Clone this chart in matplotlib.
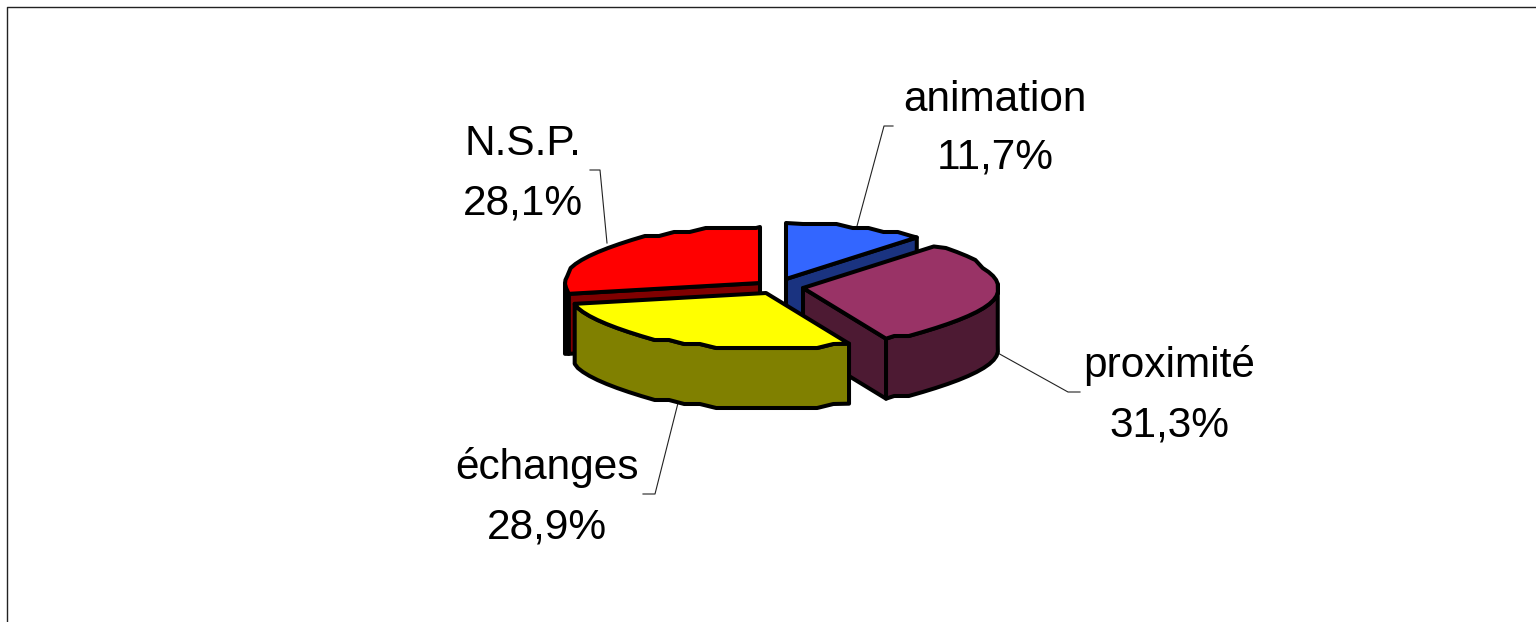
import numpy as np
import matplotlib
matplotlib.use('Agg')
import matplotlib.pyplot as plt
from matplotlib.patches import Polygon

plt.rcParams['font.family'] = ['Liberation Sans', 'DejaVu Sans']

# slices, clockwise from 12 o'clock
labels = ['animation', 'proximité', 'échanges', 'N.S.P.']
values = [11.7, 31.3, 28.9, 28.1]
value_labels = ['11,7%', '31,3%', '28,9%', '28,1%']
top_colors = ['#3366FF', '#993366', '#FFFF00', '#FF0000']
side_colors = ['#1A3380', '#4D1A33', '#808000', '#800000']

# pie geometry in pixels
apex = [(786, 279), (803, 288), (766, 293), (760, 283)]
rx = 195
ry = 56
depth = 60
lw = 2.9

label_pos = [(995, 100, 158), (1169, 366, 425), (547, 468, 528), (523, 144, 204)]
leaders = [
    [(857, 226), (884, 126), (893, 126)],
    [(996, 352), (1068, 392), (1080, 392)],
    [(678, 403), (655, 494), (643, 494)],
    [(607, 243), (600, 170), (590, 170)],
]


def arc(cx, cy, a0, a1):
    # coarse steps in y give the rough outline of the original
    t = np.radians(np.arange(a0, a1, 5.0))
    t = np.append(t, np.radians(a1))
    x = cx + rx * np.sin(t)
    y = cy - ry * np.cos(t)
    y[1:-1] = np.round(y[1:-1] / 4) * 4
    return np.column_stack([x, y])


def point(cx, cy, a):
    a = np.radians(a)
    return np.array([cx + rx * np.sin(a), cy - ry * np.cos(a)])


def extrude(pts):
    low = pts + [0, depth]
    return np.vstack([pts, low[::-1]])


def shape(ax, pts, color, z):
    ax.add_patch(Polygon(pts, closed=True, facecolor=color, edgecolor='black',
                         linewidth=lw, joinstyle='round', zorder=z))


fig = plt.figure(figsize=(15.36, 6.22), dpi=100)
ax = fig.add_axes([0, 0, 1, 1])
ax.set_xlim(0, 1536)
ax.set_ylim(622, 0)
ax.axis('off')

# frame only on top and left, the picture is cropped
ax.plot([7, 7, 1536], [622, 7, 7], color='#222222', lw=1.0, zorder=1)

edges = np.concatenate([[0], np.cumsum(values)]) * 3.6
z = {0: 3, 3: 5, 1: 7, 2: 9}

for i in [0, 3, 1, 2]:
    cx, cy = apex[i]
    a0, a1 = edges[i], edges[i + 1]
    rim = arc(cx, cy, a0, a1)
    c = np.array([cx, cy], dtype=float)

    if i == 0:
        # inner face towards the proximité slice
        shape(ax, extrude(np.array([c, point(cx, cy, a1)])), side_colors[i], z[i])
    elif i == 1:
        shape(ax, extrude(np.array([c, point(cx, cy, a1)])), side_colors[i], z[i])
        # outer wall hangs from the visible part of the rim
        keep = rim[rim[:, 1] >= cy - 4]
        shape(ax, extrude(keep), side_colors[i], z[i])
    elif i == 2:
        shape(ax, extrude(rim), side_colors[i], z[i])
    else:
        shape(ax, extrude(np.array([c, point(cx, cy, a0)])), side_colors[i], z[i])
        # thin outer wall at the far left, flat at the bottom
        p0 = point(cx, cy, a0)
        left = point(cx, cy, 270)
        wall = np.array([left, p0, p0 + [0, depth], [left[0], p0[1] + depth]])
        shape(ax, wall, side_colors[i], z[i])

    shape(ax, np.vstack([c, rim]), top_colors[i], z[i] + 1)

for i in range(4):
    x, y1, y2 = label_pos[i]
    ax.text(x, y1, labels[i], fontsize=30.5, ha='center', va='center', color='black', zorder=12)
    ax.text(x, y2, value_labels[i], fontsize=30.5, ha='center', va='center', color='black', zorder=12)
    xs, ys = zip(*leaders[i])
    ax.plot(xs, ys, color='#222222', lw=0.8, zorder=2)

fig.savefig('out.png', dpi=100, facecolor='white')
